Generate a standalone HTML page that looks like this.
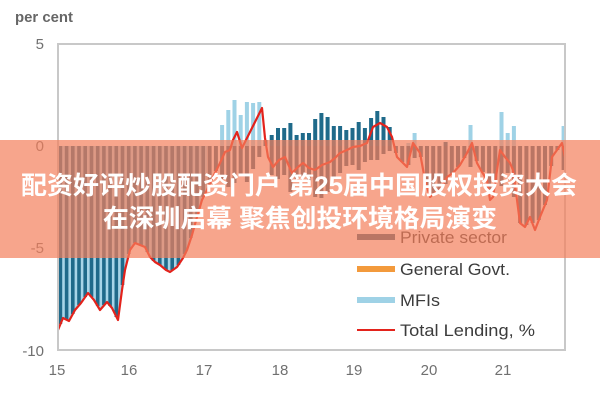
<!DOCTYPE html>
<html>
<head>
<meta charset="utf-8">
<style>
  html,body{margin:0;padding:0;background:#fff;}
  body{width:600px;height:400px;overflow:hidden;}
  svg{display:block;}
  .ax{font-family:"Liberation Sans",Arial,sans-serif;font-size:15px;fill:#707070;}
  .lg{font-family:"Liberation Sans",Arial,sans-serif;font-size:17px;fill:#3c3c3c;}
  .bn{font-family:"Liberation Sans","Noto Sans CJK SC",sans-serif;font-size:25px;font-weight:bold;fill:#fff;}
</style>
</head>
<body>
<svg width="600" height="400" viewBox="0 0 600 400" xmlns="http://www.w3.org/2000/svg">
  <rect x="0" y="0" width="600" height="400" fill="#fff"/>

  <text class="ax" x="15" y="22" textLength="58" lengthAdjust="spacingAndGlyphs" style="font-weight:bold;fill:#666">per cent</text>
  <text class="ax" x="44" y="49" text-anchor="end">5</text>
  <text class="ax" x="44" y="151" text-anchor="end">0</text>
  <text class="ax" x="44" y="253" text-anchor="end">-5</text>
  <text class="ax" x="44" y="356" text-anchor="end">-10</text>

  <text class="ax" x="57" y="375" text-anchor="middle">15</text>
  <text class="ax" x="129" y="375" text-anchor="middle">16</text>
  <text class="ax" x="204" y="375" text-anchor="middle">17</text>
  <text class="ax" x="280" y="375" text-anchor="middle">18</text>
  <text class="ax" x="354" y="375" text-anchor="middle">19</text>
  <text class="ax" x="429" y="375" text-anchor="middle">20</text>
  <text class="ax" x="503" y="375" text-anchor="middle">21</text>

  <polygon fill="#a8d5e8" points="58,146 58,330 63,318 69,321 75,310 81,303 88,293 94,300 100,310 107,302 112,308 118,320 122,290 125,270 130,250 135,243 140,245 145,247 150,257 155,262 160,265 166,270 170,272 177,267 183,258 187,250 192,235 197,217 202,200 207,190 207,146"/>

  <g fill="#1f6a8a">
    <rect x="58.6" y="146" width="3.6" height="178"/>
    <rect x="64.8" y="146" width="3.6" height="174"/>
    <rect x="71.0" y="146" width="3.6" height="168"/>
    <rect x="77.2" y="146" width="3.6" height="159"/>
    <rect x="83.4" y="146" width="3.6" height="151"/>
    <rect x="89.7" y="146" width="3.6" height="151"/>
    <rect x="95.9" y="146" width="3.6" height="160"/>
    <rect x="102.1" y="146" width="3.6" height="159"/>
    <rect x="108.3" y="146" width="3.6" height="160"/>
    <rect x="114.5" y="146" width="3.6" height="171"/>
    <rect x="120.7" y="146" width="3.6" height="139"/>
    <rect x="126.9" y="146" width="3.6" height="108"/>
    <rect x="133.1" y="146" width="3.6" height="97"/>
    <rect x="139.3" y="146" width="3.6" height="99"/>
    <rect x="145.5" y="146" width="3.6" height="106"/>
    <rect x="151.8" y="146" width="3.6" height="115"/>
    <rect x="158.0" y="146" width="3.6" height="119"/>
    <rect x="164.2" y="146" width="3.6" height="124"/>
    <rect x="170.4" y="146" width="3.6" height="124"/>
    <rect x="176.6" y="146" width="3.6" height="119"/>
    <rect x="182.8" y="146" width="3.6" height="108"/>
    <rect x="189.0" y="146" width="3.6" height="92"/>
    <rect x="195.2" y="146" width="3.6" height="70"/>
    <rect x="201.4" y="146" width="3.6" height="51"/>
  </g>

  <g fill="#2f5f78">
    <rect x="207.6" y="146" width="4" height="38"/>
    <rect x="213.9" y="146" width="4" height="25"/>
    <rect x="220.1" y="146" width="4" height="33"/>
    <rect x="226.3" y="146" width="4" height="41"/>
    <rect x="232.5" y="146" width="4" height="37"/>
    <rect x="238.7" y="146" width="4" height="29"/>
    <rect x="244.9" y="146" width="4" height="36"/>
    <rect x="251.1" y="146" width="4" height="23"/>
    <rect x="257.3" y="146" width="4" height="11"/>
    <rect x="269.7" y="146" width="4" height="29"/>
    <rect x="276.0" y="146" width="4" height="33"/>
    <rect x="282.2" y="146" width="4" height="29"/>
    <rect x="288.4" y="146" width="4" height="46"/>
    <rect x="294.6" y="146" width="4" height="33"/>
    <rect x="300.8" y="146" width="4" height="30"/>
    <rect x="307.0" y="146" width="4" height="35"/>
    <rect x="313.2" y="146" width="4" height="51"/>
    <rect x="319.4" y="146" width="4" height="52"/>
    <rect x="325.6" y="146" width="4" height="46"/>
    <rect x="331.8" y="146" width="4" height="33"/>
    <rect x="338.1" y="146" width="4" height="27"/>
    <rect x="344.3" y="146" width="4" height="20"/>
    <rect x="350.5" y="146" width="4" height="19"/>
    <rect x="356.7" y="146" width="4" height="24"/>
    <rect x="362.9" y="146" width="4" height="16"/>
    <rect x="369.1" y="146" width="4" height="14"/>
    <rect x="375.3" y="146" width="4" height="14"/>
    <rect x="381.5" y="146" width="4" height="8"/>
    <rect x="387.7" y="146" width="4" height="5"/>
    <rect x="393.9" y="146" width="4" height="7"/>
    <rect x="400.2" y="146" width="4" height="16"/>
    <rect x="406.4" y="146" width="4" height="19"/>
    <rect x="412.6" y="146" width="4" height="12"/>
    <rect x="418.8" y="146" width="4" height="11"/>
    <rect x="425.0" y="146" width="4" height="40"/>
    <rect x="431.2" y="146" width="4" height="48"/>
    <rect x="437.4" y="146" width="4" height="44"/>
    <rect x="443.6" y="146" width="4" height="38"/>
    <rect x="449.8" y="146" width="4" height="28"/>
    <rect x="456.0" y="146" width="4" height="21"/>
    <rect x="462.3" y="146" width="4" height="12"/>
    <rect x="468.5" y="146" width="4" height="21"/>
    <rect x="474.7" y="146" width="4" height="15"/>
    <rect x="480.9" y="146" width="4" height="26"/>
    <rect x="487.1" y="146" width="4" height="47"/>
    <rect x="493.3" y="146" width="4" height="36"/>
    <rect x="499.5" y="146" width="4" height="40"/>
    <rect x="505.7" y="146" width="4" height="27"/>
    <rect x="511.9" y="146" width="4" height="51"/>
    <rect x="518.1" y="146" width="4" height="77"/>
    <rect x="524.4" y="146" width="4" height="79"/>
    <rect x="530.6" y="146" width="4" height="77"/>
    <rect x="536.8" y="146" width="4" height="74"/>
    <rect x="543.0" y="146" width="4" height="59"/>
    <rect x="549.2" y="146" width="4" height="20"/>
    <rect x="555.4" y="146" width="4" height="4"/>
    <rect x="561.6" y="146" width="3.4" height="24"/>
  </g>

  <g fill="#9fd2e6">
    <rect x="220.1" y="125" width="4" height="21"/>
    <rect x="226.3" y="110" width="4" height="36"/>
    <rect x="232.5" y="100" width="4" height="46"/>
    <rect x="238.7" y="115" width="4" height="31"/>
    <rect x="244.9" y="102" width="4" height="44"/>
    <rect x="251.1" y="103" width="4" height="43"/>
    <rect x="257.3" y="102" width="4" height="44"/>
    <rect x="406.4" y="143" width="4" height="3"/>
    <rect x="412.6" y="133" width="4" height="13"/>
    <rect x="468.5" y="125" width="4" height="21"/>
    <rect x="499.5" y="112" width="4" height="34"/>
    <rect x="505.7" y="133" width="4" height="13"/>
    <rect x="511.9" y="126" width="4" height="20"/>
    <rect x="561.6" y="126" width="3.4" height="20"/>
  </g>

  <g fill="#1f6a8a">
    <rect x="263.5" y="140" width="4" height="6"/>
    <rect x="269.7" y="135" width="4" height="11"/>
    <rect x="276.0" y="128" width="4" height="18"/>
    <rect x="282.2" y="128" width="4" height="18"/>
    <rect x="288.4" y="123" width="4" height="23"/>
    <rect x="294.6" y="135" width="4" height="11"/>
    <rect x="300.8" y="133" width="4" height="13"/>
    <rect x="307.0" y="133" width="4" height="13"/>
    <rect x="313.2" y="119" width="4" height="27"/>
    <rect x="319.4" y="113" width="4" height="33"/>
    <rect x="325.6" y="117" width="4" height="29"/>
    <rect x="331.8" y="126" width="4" height="20"/>
    <rect x="338.1" y="126" width="4" height="20"/>
    <rect x="344.3" y="130" width="4" height="16"/>
    <rect x="350.5" y="128" width="4" height="18"/>
    <rect x="356.7" y="122" width="4" height="24"/>
    <rect x="362.9" y="128" width="4" height="18"/>
    <rect x="369.1" y="118" width="4" height="28"/>
    <rect x="375.3" y="111" width="4" height="35"/>
    <rect x="381.5" y="117" width="4" height="29"/>
    <rect x="387.7" y="127" width="4" height="19"/>
    <rect x="443.6" y="142" width="4" height="4"/>
  </g>

  <polyline fill="none" stroke="#e3231c" stroke-width="2.2" stroke-linejoin="round"
    points="58,330 63,318 69,321 75,310 81,303 88,293 94,300 100,310 107,302 112,308 118,320 122,290 125,270 130,250 135,243 140,245 145,247 150,257 155,262 160,265 166,270 170,272 177,267 183,258 187,250 192,235 197,217 202,200 207,190 213,177 220,163 225,152 230,150 233,140 237,132 242,148 247,138 252,128 257,118 262,108 265,138 268,157 273,167 279,160 285,157 292,173 298,167 303,163 309,168 315,170 322,165 330,162 335,158 340,153 347,150 353,147 360,146 367,143 373,127 380,123 387,127 392,137 397,157 402,162 407,167 413,143 420,153 425,180 430,197 435,193 440,190 447,177 453,173 460,165 467,153 472,143 477,163 482,172 487,180 490,200 493,197 500,150 505,157 510,163 513,170 517,200 520,223 525,227 530,217 535,230 540,217 547,200 552,157 557,150 562,143 565,157"/>

  <rect x="58" y="44" width="507" height="306" fill="none" stroke="#c8c8c8" stroke-width="2"/>

  <rect x="357" y="234" width="38" height="6" fill="#2f5f78"/>
  <text class="lg" x="400" y="243" textLength="107" lengthAdjust="spacingAndGlyphs">Private sector</text>
  <rect x="357" y="266" width="38" height="6" fill="#f39a3c"/>
  <text class="lg" x="400" y="275" textLength="110" lengthAdjust="spacingAndGlyphs">General Govt.</text>
  <rect x="357" y="297" width="38" height="6" fill="#9fd2e6"/>
  <text class="lg" x="400" y="306" textLength="40" lengthAdjust="spacingAndGlyphs">MFIs</text>
  <rect x="357" y="329" width="38" height="2" fill="#e3231c"/>
  <text class="lg" x="400" y="336" textLength="135" lengthAdjust="spacingAndGlyphs">Total Lending, %</text>

  <rect x="0" y="140" width="600" height="118" fill="rgb(244,127,91)" fill-opacity="0.7"/>
  <text class="bn" x="21" y="194" textLength="556" lengthAdjust="spacingAndGlyphs">配资好评炒股配资门户 第25届中国股权投资大会</text>
  <text class="bn" x="103" y="227" textLength="394" lengthAdjust="spacingAndGlyphs">在深圳启幕 聚焦创投环境格局演变</text>
</svg>
</body>
</html>
